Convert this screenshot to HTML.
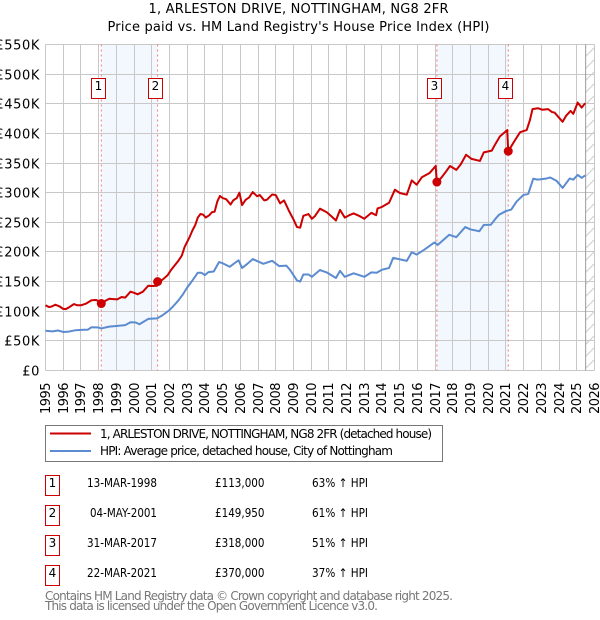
<!DOCTYPE html>
<html lang="en">
<head>
<meta charset="utf-8">
<title>1, ARLESTON DRIVE, NOTTINGHAM, NG8 2FR</title>
<style>
html,body{margin:0;padding:0;background:#fff;width:600px;height:620px;overflow:hidden}
svg{display:block}
text{font-family:"DejaVu Sans","Liberation Sans",sans-serif;fill:#000}
</style>
</head>
<body>
<svg id="chart" xmlns="http://www.w3.org/2000/svg" width="600" height="620" viewBox="0 0 600 620">
<defs>
<pattern id="hatch" width="12" height="12" patternUnits="userSpaceOnUse" patternTransform="translate(585.5 44.5)">
<path d="M0 12L12 0" stroke="#cccccc" stroke-width="1" fill="none"/>
</pattern>
</defs>
<text x="298.5" y="13" text-anchor="middle" font-size="13" textLength="300">1, ARLESTON DRIVE, NOTTINGHAM, NG8 2FR</text>
<text x="298.5" y="31" text-anchor="middle" font-size="13" textLength="382">Price paid vs. HM Land Registry's House Price Index (HPI)</text>
<g id="plot"></g>

<g>
<rect x="45.5" y="425.5" width="397" height="36" fill="#fff" stroke="#777"/>
<line x1="50" x2="91" y1="433.5" y2="433.5" stroke="#cc0000" stroke-width="2"/>
<text x="100" y="438" font-size="12" textLength="332">1, ARLESTON DRIVE, NOTTINGHAM, NG8 2FR (detached house)</text>
<line x1="50" x2="91" y1="451" y2="451" stroke="#5b8bd0" stroke-width="2"/>
<text x="100" y="455" font-size="12" textLength="293">HPI: Average price, detached house, City of Nottingham</text>
</g>

<g>
<g>
<rect x="45.5" y="475.5" width="14" height="20" fill="#fff" stroke="#cc0000"/>
<text x="52.5" y="487" text-anchor="middle" font-size="12">1</text>
<text x="157" y="487" text-anchor="end" font-size="12" textLength="70" lengthAdjust="spacingAndGlyphs">13-MAR-1998</text>
<text x="215" y="487" font-size="12" textLength="49.5" lengthAdjust="spacingAndGlyphs">£113,000</text>
<text x="312" y="487" font-size="12" textLength="56" lengthAdjust="spacingAndGlyphs">63% ↑ HPI</text>
</g>
<g>
<rect x="45.5" y="505.5" width="14" height="20" fill="#fff" stroke="#cc0000"/>
<text x="52.5" y="517" text-anchor="middle" font-size="12">2</text>
<text x="157" y="517" text-anchor="end" font-size="12" textLength="67" lengthAdjust="spacingAndGlyphs">04-MAY-2001</text>
<text x="215" y="517" font-size="12" textLength="49.5" lengthAdjust="spacingAndGlyphs">£149,950</text>
<text x="312" y="517" font-size="12" textLength="56" lengthAdjust="spacingAndGlyphs">61% ↑ HPI</text>
</g>
<g>
<rect x="45.5" y="535.5" width="14" height="20" fill="#fff" stroke="#cc0000"/>
<text x="52.5" y="547" text-anchor="middle" font-size="12">3</text>
<text x="157" y="547" text-anchor="end" font-size="12" textLength="70" lengthAdjust="spacingAndGlyphs">31-MAR-2017</text>
<text x="215" y="547" font-size="12" textLength="49.5" lengthAdjust="spacingAndGlyphs">£318,000</text>
<text x="312" y="547" font-size="12" textLength="56" lengthAdjust="spacingAndGlyphs">51% ↑ HPI</text>
</g>
<g>
<rect x="45.5" y="565.5" width="14" height="20" fill="#fff" stroke="#cc0000"/>
<text x="52.5" y="577" text-anchor="middle" font-size="12">4</text>
<text x="157" y="577" text-anchor="end" font-size="12" textLength="70" lengthAdjust="spacingAndGlyphs">22-MAR-2021</text>
<text x="215" y="577" font-size="12" textLength="49.5" lengthAdjust="spacingAndGlyphs">£370,000</text>
<text x="312" y="577" font-size="12" textLength="56" lengthAdjust="spacingAndGlyphs">37% ↑ HPI</text>
</g>
</g>
<text x="45" y="600" font-size="12" textLength="408" style="fill:#777">Contains HM Land Registry data © Crown copyright and database right 2025.</text>
<text x="45" y="610" font-size="12" textLength="333" style="fill:#777">This data is licensed under the Open Government Licence v3.0.</text>
</svg>
<script>
const yearTicks = [1995,1996,1997,1998,1999,2000,2001,2002,2003,2004,2005,2006,2007,2008,2009,2010,2011,2012,2013,2014,2015,2016,2017,2018,2019,2020,2021,2022,2023,2024,2025,2026];
const priceTicks = [0,50,100,150,200,250,300,350,400,450,500,550];
const priceTickLabels = ['£0','£50K','£100K','£150K','£200K','£250K','£300K','£350K','£400K','£450K','£500K','£550K'];
const saleNumbers = ['1','2','3','4'];
const saleDates = [1998.15,2001.33,2017.1,2021.13];
const salePrices = [113,149.95,318,370];
const dataEndDate = 2025.5;
const redDates = [1995,1995.2,1995.35,1995.55,1995.8,1996,1996.15,1996.35,1996.6,1996.8,1997,1997.3,1997.6,1997.85,1998,1998.15,1998.35,1998.6,1998.85,1999.05,1999.3,1999.5,1999.8,2000,2000.2,2000.5,2000.8,2001,2001.3,2001.33,2001.6,2001.9,2002.1,2002.3,2002.5,2002.7,2002.85,2003,2003.15,2003.3,2003.45,2003.6,2003.75,2003.9,2004.05,2004.25,2004.4,2004.55,2004.7,2004.85,2005,2005.2,2005.45,2005.6,2005.8,2005.95,2006.1,2006.3,2006.5,2006.7,2006.95,2007.1,2007.35,2007.5,2007.8,2008,2008.25,2008.47,2008.77,2009,2009.2,2009.38,2009.56,2009.85,2010.04,2010.2,2010.5,2010.88,2011.15,2011.4,2011.63,2011.9,2012.15,2012.4,2012.7,2013,2013.4,2013.67,2013.75,2014,2014.4,2014.73,2015,2015.4,2015.68,2015.96,2016.25,2016.7,2017.03,2017.1,2017.37,2017.6,2017.84,2018.2,2018.45,2018.75,2019.06,2019.53,2019.75,2020.2,2020.4,2020.66,2021.07,2021.13,2021.5,2021.8,2022.17,2022.35,2022.5,2022.8,2023.05,2023.38,2023.6,2023.75,2024.2,2024.4,2024.65,2024.8,2025.05,2025.28,2025.47];
const redValues = [110,107,108,111,108,104,103.5,107,112,110,110,113,118.5,119,117,113,117,121,120.5,120,124,123,133,131,128.5,133,143,142.5,143,150,153,161,170,177.6,185,194,208,217,226,236.6,245,258,264,263,258,262,267,268,285,294.5,291,289,280,287,291,300,279,288,292,301,294,296,287,288,297,296,282,287,268,255,242,241,261,264,256,260,273,267,260,253,271,258,262,265,261,256,266,262,273.5,276,283,305,299.5,296.6,320.7,313.4,326,333.5,345,317,326,335,345,338.5,348,364,357,353.6,368,371,382,395,405.6,370,388,402,405.6,422,441,442.5,440,441,436,435,419.6,430,438,433,452,443.6,451];
const blueDates = [1995,1995.4,1995.7,1996,1996.3,1996.7,1997,1997.4,1997.6,1998,1998.15,1998.6,1999,1999.5,1999.8,2000.1,2000.3,2000.8,2001.3,2001.6,2002,2002.2,2002.5,2002.75,2003,2003.3,2003.6,2003.8,2004,2004.2,2004.5,2004.8,2005,2005.4,2005.9,2006.1,2006.4,2006.7,2007,2007.3,2007.8,2008.2,2008.6,2008.8,2009,2009.2,2009.38,2009.56,2009.85,2010.04,2010.5,2010.88,2011.4,2011.63,2011.9,2012.4,2013,2013.4,2013.7,2014,2014.4,2014.63,2015.4,2015.68,2015.96,2016.4,2016.96,2017.15,2017.8,2018.2,2018.7,2019,2019.5,2019.75,2020.15,2020.44,2020.6,2021,2021.3,2021.6,2021.98,2022.26,2022.54,2022.8,2023.3,2023.5,2023.86,2024.2,2024.6,2024.8,2025.05,2025.28,2025.47];
const blueValues = [67,66,67.5,65,65.5,68,68.5,69,73,72.5,71,74,75,76.5,81.5,81,78,87,88,93,102,108,118,128,140,152,165,165,161,166,167,183,181,175,186,173,180,188,184,180,185,176,177,170,161,152,150,162,162,158,169.5,165.5,156,168,158,164,158,165.5,165,170,173,190,185,199.5,195.6,204,216,212,229,225,242,238,235,245.6,246,257,262.5,269,271.5,285,296,298,323.5,322,324,325.7,320,308,324,322,330,325,329];

const svgNS = 'http://www.w3.org/2000/svg';
const plot = document.getElementById('plot');
const plotLeft = 45.5, plotRight = 594.5, plotTop = 44.5, plotBottom = 370.5;
function xScale(year){ return plotLeft + (year - 1995) * (plotRight - plotLeft) / 31; }
function yScale(price){ return plotBottom - price * (plotBottom - plotTop) / 550; }
function add(tag, attrs, parent){
  const el = document.createElementNS(svgNS, tag);
  for (const k in attrs) el.setAttribute(k, attrs[k]);
  (parent || plot).appendChild(el);
  return el;
}
function linePath(dates, values){
  return dates.map((d,i)=>(i?'L':'M')+xScale(d).toFixed(2)+' '+yScale(values[i]).toFixed(2)).join('');
}

for (let i = 0; i < saleDates.length; i += 2) {
  const band = add('rect',{x:xScale(saleDates[i]),y:plotTop,width:xScale(saleDates[i+1])-xScale(saleDates[i]),height:plotBottom-plotTop,fill:'#f3f7fe'});
  
  
}
priceTicks.forEach((p,i)=>{
  const y = Math.round(yScale(p)-0.5)+0.5;
  const g = add('line',{x1:plotLeft,x2:plotRight,y1:y,y2:y,stroke:'#c8c8c8','stroke-width':1});
  
  
  const t = add('text',{x:40,y:y+5,'text-anchor':'end','font-size':13,'letter-spacing':'0.6'});
  t.textContent = priceTickLabels[i];
  
  
});
yearTicks.forEach(yr=>{
  const x = Math.round(xScale(yr)-0.5)+0.5;
  const g = add('line',{x1:x,x2:x,y1:plotTop,y2:plotBottom,stroke:'#c8c8c8','stroke-width':1});
  
  
  const t = add('text',{x:0,y:0,'text-anchor':'end','font-size':13,transform:'translate('+(x+4.5)+' 382.5) rotate(-90)',textLength:31.5});
  t.textContent = String(yr);
  
  
});
const xEnd = xScale(dataEndDate);
const hatch = add('rect',{x:xEnd,y:plotTop,width:plotRight-xEnd,height:plotBottom-plotTop,fill:'url(#hatch)'});


const endLine = add('line',{x1:xEnd,x2:xEnd,y1:plotTop,y2:plotBottom,stroke:'#999999','stroke-width':1});



saleDates.forEach((d,i)=>{
  const x = xScale(d);
  const l = add('line',{x1:x,x2:x,y1:plotTop,y2:plotBottom,stroke:'#f07b7b','stroke-width':1,'stroke-dasharray':'2 3'});
  
  
});
const bluePath = add('path',{d:linePath(blueDates,blueValues),fill:'none',stroke:'#5b8bd0','stroke-width':2,'stroke-linejoin':'round'});


const redPath = add('path',{d:linePath(redDates,redValues),fill:'none',stroke:'#cc0000','stroke-width':2,'stroke-linejoin':'round'});


saleDates.forEach((d,i)=>{
  const x = xScale(d);
  const c = add('circle',{cx:x,cy:yScale(salePrices[i]),r:4.5,fill:'#cc0000'});
  
  
  const box = add('rect',{x:Math.round(x)-9.5,y:78.5,width:14,height:20,fill:'#fff',stroke:'#cc0000'});
  
  
  const n = add('text',{x:Math.round(x)-2.5,y:90,'text-anchor':'middle','font-size':12});
  n.textContent = saleNumbers[i];
  
  
});
</script>
</body>
</html>
